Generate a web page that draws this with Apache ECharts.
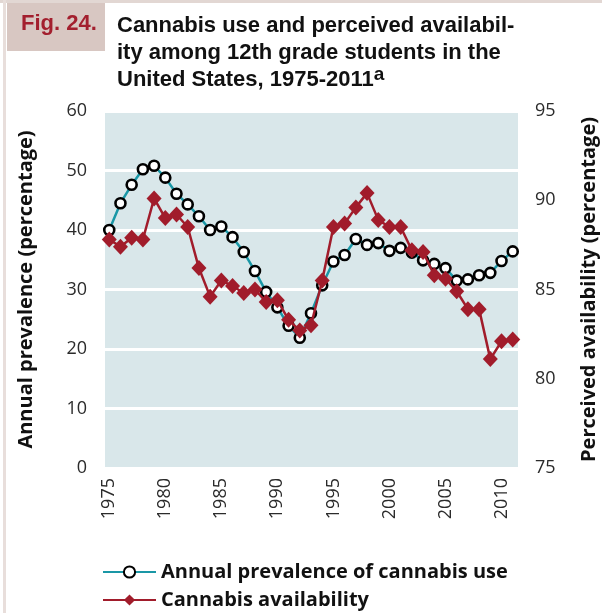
<!DOCTYPE html>
<html>
<head>
<meta charset="utf-8">
<script src="https://cdn.jsdelivr.net/npm/echarts@6/dist/echarts.min.js"></script>
<style>
html,body{margin:0;padding:0;background:#fff;}
#chart{width:602px;height:613px;}
</style>
</head>
<body>
<div id="chart"></div>
<script>
const years = [1975,1976,1977,1978,1979,1980,1981,1982,1983,1984,1985,1986,1987,1988,1989,1990,1991,1992,1993,1994,1995,1996,1997,1998,1999,2000,2001,2002,2003,2004,2005,2006,2007,2008,2009,2010,2011];
const annualPrevalence = [40.0,44.5,47.6,50.2,50.8,48.8,46.1,44.3,42.3,40.0,40.6,38.8,36.3,33.1,29.6,27.0,23.9,21.9,26.0,30.7,34.7,35.8,38.5,37.5,37.8,36.5,37.0,36.2,34.9,34.3,33.6,31.5,31.7,32.4,32.8,34.8,36.4];
const availability = [87.8,87.4,87.9,87.8,90.1,89.0,89.2,88.5,86.2,84.6,85.5,85.2,84.8,85.0,84.3,84.4,83.3,82.7,83.0,85.5,88.5,88.7,89.6,90.4,88.9,88.5,88.5,87.2,87.1,85.8,85.6,84.9,83.9,83.9,81.1,82.1,82.2];
const xTickLabels = [1975,1980,1985,1990,1995,2000,2005,2010];
const leftTicks = [0,10,20,30,40,50,60];
const rightTicks = [75,80,85,90,95];
const seriesNames = ['Annual prevalence of cannabis use','Cannabis availability'];

const chart = echarts.init(document.getElementById('chart'), null, {renderer:'canvas'});
const tickFont = {fontFamily:'Open Sans', fontSize:18, color:'#2b2b2b'};
const nameFont = {fontFamily:'Open Sans', fontWeight:'bold', fontSize:20, color:'#111'};
const option = {
  animation:false,
  backgroundColor:'#fff',
  graphic:[
    {type:'rect', shape:{x:0,y:0,width:602,height:3}, style:{fill:'#e2d7d3'}},
    {type:'rect', shape:{x:3,y:0,width:3,height:613}, style:{fill:'#e8dedb'}},
    {type:'rect', shape:{x:7,y:3,width:98,height:48}, style:{fill:'#d8c7c2'}},
    {type:'text', left:21, top:13, style:{text:'Fig. 24.', fill:'#a31f2e', font:'bold 22px "Liberation Sans"'}}
  ],
  title:{
    left:112, top:7,
    text:'Cannabis use and perceived availabil-\nity among 12th grade students in the\nUnited States, 1975-2011{sup|a}',
    textStyle:{fontFamily:'Liberation Sans', fontWeight:'bold', fontSize:22, lineHeight:27, color:'#111',
      rich:{sup:{fontFamily:'Liberation Sans', fontWeight:'bold', fontSize:19, color:'#111', padding:[0,0,9,0]}}}
  },
  grid:{left:105, top:111, width:413, height:357, show:true, backgroundColor:'#d9e7ea', borderWidth:0,
        containLabel:false, outerBoundsMode:'none'},
  legend:{
    left:102, top:562, orient:'vertical', padding:0, itemGap:8, itemWidth:53, itemHeight:14,
    textStyle:nameFont,
    data:seriesNames
  },
  xAxis:{
    type:'value', min:1974.62, max:2011.47,
    axisLine:{show:false}, axisTick:{show:false}, splitLine:{show:false},
    axisLabel:Object.assign({rotate:90, margin:10, customValues:xTickLabels, formatter:v=>String(v)}, tickFont)
  },
  yAxis:[
    {type:'value', min:0, max:60, interval:10, position:'left',
     name:'Annual prevalence (percentage)', nameLocation:'middle', nameGap:69,
     nameTextStyle:nameFont,
     axisLine:{show:false}, axisTick:{show:false},
     splitLine:{show:true, lineStyle:{color:'#ffffff', width:3}},
     axisLabel:Object.assign({margin:18}, tickFont)},
    {type:'value', min:75, max:95, interval:5, position:'right',
     name:'Perceived availability (percentage)', nameLocation:'middle', nameGap:61,
     nameTextStyle:nameFont,
     axisLine:{show:false}, axisTick:{show:false}, splitLine:{show:false},
     axisLabel:Object.assign({margin:17}, tickFont)}
  ],
  series:[
    {name:seriesNames[0], type:'line', yAxisIndex:0,
     data:years.map((y,i)=>[y,annualPrevalence[i]]),
     symbol:'circle', symbolSize:10,
     lineStyle:{color:'#1a97a6', width:2.5},
     itemStyle:{color:'#ffffff', borderColor:'#000', borderWidth:2.6},
     z:2},
    {name:seriesNames[1], type:'line', yAxisIndex:1,
     data:years.map((y,i)=>[y,availability[i]]),
     symbol:'diamond', symbolSize:[15,16],
     lineStyle:{color:'#a11c2b', width:2.5},
     itemStyle:{color:'#a11c2b'},
     z:3}
  ]
};
chart.setOption(option);
</script>
</body>
</html>
